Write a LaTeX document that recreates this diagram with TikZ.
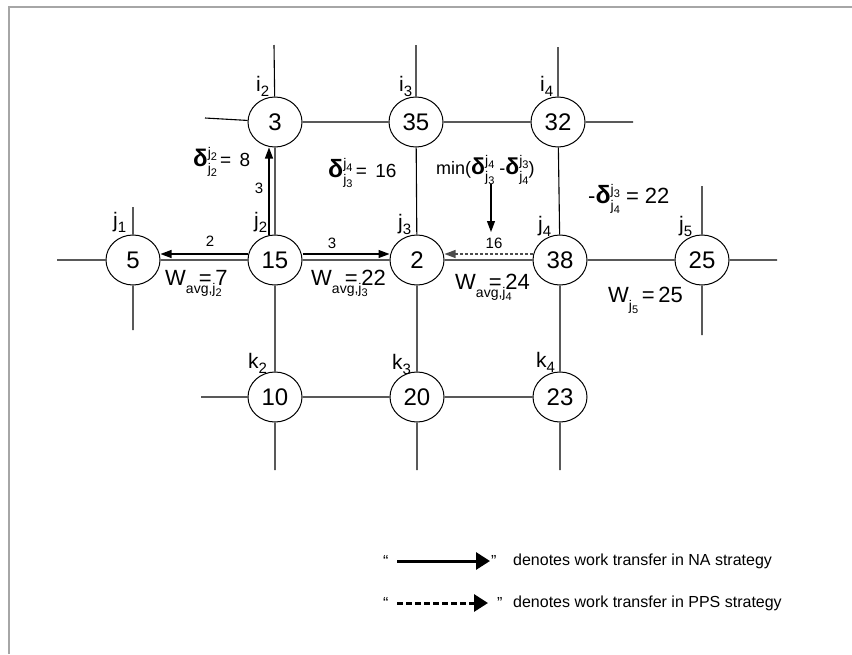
\documentclass[tikz,border=0pt]{standalone}
\usepackage{fontspec}
\setmainfont{Liberation Sans}
\usetikzlibrary{shapes.geometric,arrows.meta}
\newcommand{\fs}[2]{{\fontsize{#1}{#1}\selectfont #2}}
\newcommand{\lbl}[2]{\fs{21}{#1}\raisebox{-5pt}{\fs{15}{#2}}}
\newcommand{\jx}[1]{j\raisebox{-3pt}{\fs{11}{#1}}}
\newcommand{\dss}[3]{\fs{#1}{\bfseries δ}\rlap{\raisebox{9pt}{\fs{14}{\jx{#2}}}}\raisebox{-7pt}{\fs{14}{\jx{#3}}}}
\newcommand{\wlab}[4]{\fs{22}{W}\rlap{\raisebox{-8pt}{\fs{14}{#1\jx{#2}}}}\hspace{#3}\fs{22}{=\,#4}}
\begin{document}
\begin{tikzpicture}[x=1pt,y=-1pt,
  nd/.style={draw,line width=1pt,ellipse,minimum width=54pt,minimum height=50pt,inner sep=0pt,font=\fontsize{24}{24}\selectfont},
  ln/.style={line width=1.1pt},
  arr/.style={line width=1.1pt,-{Triangle[length=11pt,width=8pt]}},
  darr/.style={line width=1.1pt,gray!60!black,dash pattern=on 3pt off 2pt,-{Triangle[length=11pt,width=8pt]}},
  el/.style={inner sep=0pt,font=\fontsize{15}{15}\selectfont},
  txt/.style={inner sep=0pt},
  frame/.style={line width=2pt,gray!70},
  legarr/.style={line width=3pt,-{Triangle[length=14pt,width=17pt]}},
  legdarr/.style={line width=3pt,dash pattern=on 6pt off 3pt,-{Triangle[length=14pt,width=17pt]}},
  legt/.style={inner sep=0pt,anchor=west,font=\fontsize{16}{16}\selectfont}]
\useasboundingbox (0,0) rectangle (852,654);
\draw[frame] (9,654) -- (9,7) -- (852,7);
% nodes
\node[nd] (i2) at (275,122) {3};
\node[nd] (i3) at (416,122) {35};
\node[nd] (i4) at (558,122) {32};
\node[nd] (j1) at (133,260) {5};
\node[nd] (j2) at (275,260) {15};
\node[nd] (j3) at (417,260) {2};
\node[nd] (j4) at (560,260) {38};
\node[nd] (j5) at (702,260) {25};
\node[nd] (k2) at (275,397) {10};
\node[nd] (k3) at (417,397) {20};
\node[nd] (k4) at (560,397) {23};
% free ends
\coordinate (i2u) at (274,45);
\coordinate (i2l) at (205,118);
\coordinate (i3u) at (416,45);
\coordinate (i4u) at (558,47);
\coordinate (i4r) at (633,122);
\coordinate (j1u) at (133,207);
\coordinate (j1l) at (57,260);
\coordinate (j1d) at (133,330);
\coordinate (j5u) at (702,186);
\coordinate (j5r) at (777,260);
\coordinate (j5d) at (702,335);
\coordinate (k2l) at (201,397);
\coordinate (k2d) at (275,470);
\coordinate (k3d) at (417,470);
\coordinate (k4d) at (560,470);
% grid lines
\draw[ln] (i2) -- (i2u) (i2) -- (i2l) (i3) -- (i3u) (i4) -- (i4u) (i4) -- (i4r)
  (i2) -- (i3) (i3) -- (i4)
  (i2) -- (j2) (i3) -- (j3) (i4) -- (j4)
  (j1) -- (j1u) (j1) -- (j1l) (j1) -- (j1d)
  (j1) -- (j2) (j2) -- (j3) (j3) -- (j4) (j4) -- (j5)
  (j5) -- (j5u) (j5) -- (j5r) (j5) -- (j5d)
  (j2) -- (k2) (j3) -- (k3) (j4) -- (k4)
  (k2) -- (k3) (k3) -- (k4)
  (k2) -- (k2l) (k2) -- (k2d) (k3) -- (k3d) (k4) -- (k4d);
% transfer arrows
\draw[arr] ([xshift=-6pt]j2.north) -- ([xshift=-6pt]i2.south);
\draw[arr] ([yshift=6pt]j2.west) -- ([yshift=6pt]j1.east);
\draw[arr] ([yshift=6pt]j2.east) -- ([yshift=6pt]j3.west);
\draw[darr] ([yshift=6pt]j4.west) -- ([yshift=6pt]j3.east);
% edge labels
\node[el] (l3v) at (259,188) {3};
\node[el] (l2) at (210,241) {2};
\node[el] (l3h) at (332,243) {3};
\node[el] (l16) at (494,243) {16};
% vertex labels
\node[txt,anchor=base west] (li2) at (256,91) {\lbl{i}{2}};
\node[txt,anchor=base west] (li3) at (399,91) {\lbl{i}{3}};
\node[txt,anchor=base west] (li4) at (540,91) {\lbl{i}{4}};
\node[txt,anchor=base west] (lj1) at (113,227) {\lbl{j}{1}};
\node[txt,anchor=base west] (lj2) at (254,227) {\lbl{j}{2}};
\node[txt,anchor=base west] (lj3) at (398,229) {\lbl{j}{3}};
\node[txt,anchor=base west] (lj4) at (538,231) {\lbl{j}{4}};
\node[txt,anchor=base west] (lj5) at (679,231) {\lbl{j}{5}};
\node[txt,anchor=base west] (lk2) at (248,368) {\lbl{k}{2}};
\node[txt,anchor=base west] (lk3) at (392,369) {\lbl{k}{3}};
\node[txt,anchor=base west] (lk4) at (536,367) {\lbl{k}{4}};
% delta annotations
\node[txt,anchor=base west] (d1) at (193,166) {\dss{24}{2}{2}\fs{19}{\,=\, 8}};
\node[txt,anchor=base west] (d2) at (328,177) {\dss{25}{4}{3}\fs{19}{\,=\, 16}};
\node[txt,anchor=base west] (mn) at (436,174) {\fs{18}{min(}\dss{23}{4}{3}\fs{18}{\ -}\dss{23}{3}{4}\fs{18}{)}};
\coordinate (mt) at (491,232);
\draw[arr] (mn.south -| mt) -- (mt);
\node[txt,anchor=base west] (d3) at (588,203) {\fs{22}{-}\dss{25}{3}{4}\fs{22}{\ = 22}};
% W labels
\node[txt,anchor=base west] (w2) at (165,285) {\wlab{avg,}{2}{13pt}{7}};
\node[txt,anchor=base west] (w3) at (311,285) {\wlab{avg,}{3}{13pt}{22}};
\node[txt,anchor=base west] (w4) at (455,289) {\wlab{avg,}{4}{13pt}{24}};
\node[txt,anchor=base west] (w5) at (608,302) {\fs{22}{W}\raisebox{-8pt}{\fs{14}{\jx{5}}}\fs{22}{\,=\,25}};
% legend
\node[legt] (q1) at (383,561) {“};
\coordinate (la1) at (397,561);
\coordinate (lb1) at (490,561);
\draw[legarr] (la1) -- (lb1);
\node[legt] (q2) at (491,561) {”};
\node[legt] (t1) at (513,561) {denotes work transfer in NA strategy};
\node[legt] (q3) at (383,603) {“};
\coordinate (la2) at (397,603);
\coordinate (lb2) at (488,603);
\draw[legdarr] (la2) -- (lb2);
\node[legt] (q4) at (497,603) {”};
\node[legt] (t2) at (513,603) {denotes work transfer in PPS strategy};
\end{tikzpicture}
\end{document}
